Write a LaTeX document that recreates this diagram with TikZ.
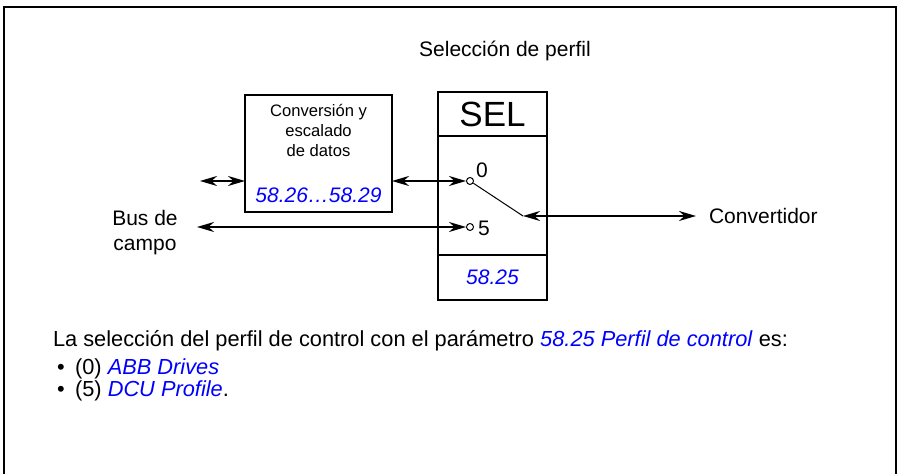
\documentclass[tikz,border=0pt]{standalone}
\usepackage{fontspec}
\setmainfont{Liberation Sans}
\usetikzlibrary{arrows.meta, positioning, calc}
\definecolor{parblue}{RGB}{0,0,255}

\begin{document}
\begin{tikzpicture}[
    x=0.5pt, y=-0.5pt,
    font=\fontsize{10.5}{12.5}\selectfont,
    box/.style={rectangle, draw, line width=1pt, inner sep=0pt, outer sep=0pt},
    param/.style={text=parblue, font=\fontsize{10.5}{12.5}\selectfont\itshape},
    contact/.style={circle, draw, fill=white, line width=0.5pt, inner sep=0pt, minimum size=3.5pt},
    arrow/.style={{Stealth[length=8.5pt,width=5pt]}-{Stealth[length=8.5pt,width=5pt]}, line width=1pt},
    txt/.style={anchor=west, font=\fontsize{10.9}{13}\selectfont}
]
\useasboundingbox (0,0) rectangle (900,474);
% Frame
\draw[line width=1pt] (4,474) -- (4,7) -- (896,7) -- (896,474);

% Title
\node (title) at (505,51) {Selección de perfil};

% Conversion box
\node[box, minimum width=73.5pt, minimum height=58.5pt] (conv) at (318.5,153.5) {};
\node[below=1pt of conv.north, align=center, font=\fontsize{8.3}{10}\selectfont] (convtxt) {Conversión y\\escalado\\de datos};
\node[param, above=1pt of conv.south] (convpar) {58.26…58.29};

% SEL block
\node[box, minimum width=54.5pt, minimum height=22pt, font=\fontsize{17.5}{19}\selectfont] (selhead) at (492.5,114) {SEL};
\node[box, minimum width=54.5pt, minimum height=59.5pt, below=0pt of selhead] (selbody) {};
\node[box, param, minimum width=54.5pt, minimum height=22.5pt, below=0pt of selbody] (selpar) {58.25};

% Switch
\node[contact] (c0) at (470,181) {};
\node[contact] (c5) at (470,227) {};
\node (l0) at (482,170) {0};
\node (l5) at (484,228) {5};
\coordinate (pivot) at (523,216);
\draw[line width=0.5pt] (c0) -- (pivot);

% Bus side
\node[align=center] (bus) at (145,233) {Bus de\\campo};
\coordinate (busin) at (200,181);
\coordinate (busout) at (197,227);

% Drive side
\node[anchor=west] (drv) at (702,216) {Convertidor};

% Arrows
\draw[arrow] (busin) -- (busin -| conv.west);
\draw[arrow] (conv.east |- c0) -- (c0.west);
\draw[arrow] (busout) -- (c5.west);
\draw[arrow] (pivot) -- ([xshift=-3pt]drv.west);

% Description
\node[txt] (desc) at (46,341) {La selección del perfil de control con el parámetro \textcolor{parblue}{\textit{58.25 Perfil de control}} es:};
\node[txt] (item0) at (46,369) {\hspace{2pt}\makebox[9pt][l]{•}(0) \textcolor{parblue}{\textit{ABB Drives}}};
\node[txt] (item5) at (46,391) {\hspace{2pt}\makebox[9pt][l]{•}(5) \textcolor{parblue}{\textit{DCU Profile}}.};
\end{tikzpicture}
\end{document}
